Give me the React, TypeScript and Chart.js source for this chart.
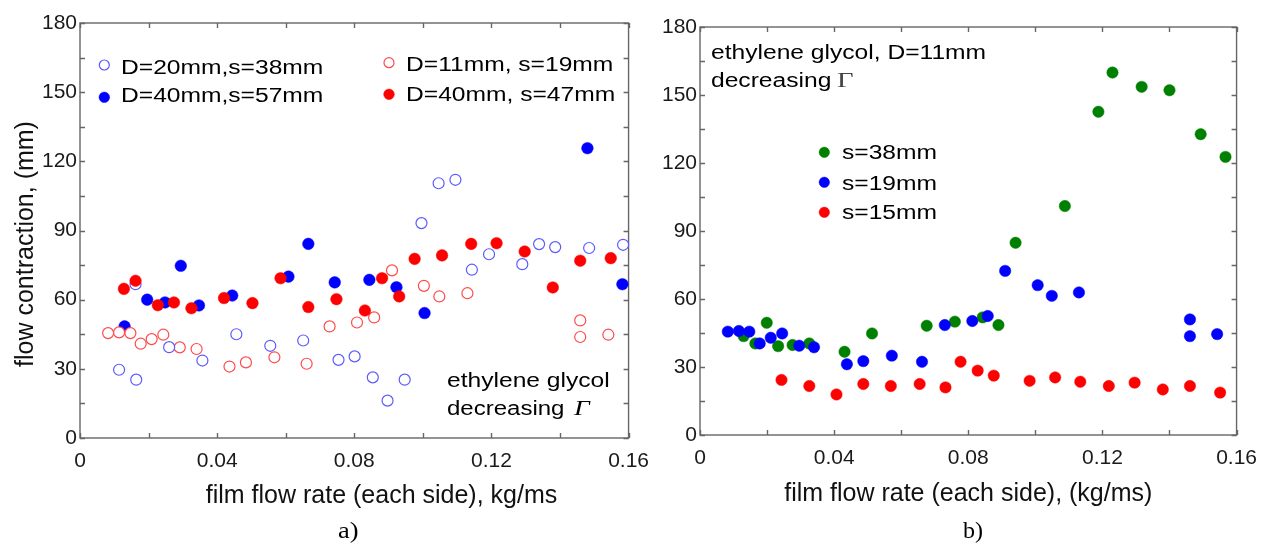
import React, { useEffect, useRef } from 'react';
import { Chart, registerables } from 'chart.js';

Chart.register(...registerables);

// ---------- Panel a) data ----------
const aBlueOpenX = [0.0114, 0.0164, 0.0162, 0.026, 0.0357, 0.0456, 0.0555, 0.0651, 0.0754, 0.0801, 0.0854, 0.0897, 0.0947, 0.0996, 0.1046, 0.1095, 0.1143, 0.1193, 0.129, 0.1339, 0.1386, 0.1485, 0.1584];
const aBlueOpenY = [29.6, 25.3, 66.7, 39.4, 33.6, 45, 40, 42.3, 33.9, 35.4, 26.3, 16.2, 25.3, 93.2, 110.5, 112, 73, 79.7, 75.4, 84.1, 82.8, 82.4, 83.8];

const aBlueFilledX = [0.013, 0.0196, 0.0248, 0.0294, 0.0347, 0.0444, 0.0608, 0.0666, 0.0743, 0.0844, 0.0923, 0.1005, 0.148, 0.1582];
const aBlueFilledY = [48.4, 60, 58.8, 74.7, 57.5, 61.8, 70, 84.2, 67.5, 68.6, 65.4, 54.2, 125.7, 66.7];

const aRedOpenX = [0.0082, 0.0114, 0.0147, 0.0177, 0.0209, 0.0243, 0.0291, 0.034, 0.0436, 0.0484, 0.0567, 0.0661, 0.0728, 0.0808, 0.0858, 0.091, 0.1003, 0.1048, 0.113, 0.1459, 0.1459, 0.1541];
const aRedOpenY = [45.5, 45.8, 45.5, 40.9, 42.9, 44.8, 39.3, 38.6, 31.0, 32.8, 35, 32.2, 48.4, 50.1, 52.3, 72.7, 66, 61.4, 62.8, 51, 43.8, 44.8];

const aRedFilledX = [0.0128, 0.0162, 0.0227, 0.0274, 0.0325, 0.042, 0.0503, 0.0585, 0.0666, 0.0748, 0.0831, 0.0881, 0.0931, 0.0976, 0.1056, 0.1141, 0.1215, 0.1297, 0.1379, 0.1459, 0.1548];
const aRedFilledY = [64.7, 68.2, 57.6, 58.8, 56.3, 60.7, 58.5, 69.3, 56.8, 60.2, 55.3, 69.3, 61.4, 77.7, 79.2, 84.2, 84.5, 80.9, 65.3, 76.9, 78];

// ---------- Panel b) data ----------
const bGreenX = [0.013, 0.0165, 0.0199, 0.0233, 0.0276, 0.0326, 0.0431, 0.0513, 0.0676, 0.076, 0.0843, 0.089, 0.0941, 0.1088, 0.1188, 0.123, 0.1317, 0.14, 0.1493, 0.1567];
const bGreenY = [43.6, 40.4, 49.5, 39.2, 39.7, 40.4, 36.7, 44.8, 48.2, 50, 51.9, 48.5, 84.8, 101, 142.6, 159.9, 153.6, 152.1, 132.7, 122.7];

const bBlueX = [0.0083, 0.0116, 0.0147, 0.0178, 0.0211, 0.0245, 0.0296, 0.034, 0.0438, 0.0487, 0.0572, 0.0662, 0.073, 0.0812, 0.0858, 0.091, 0.1007, 0.1049, 0.113, 0.1461, 0.1461, 0.1542];
const bBlueY = [45.6, 45.9, 45.6, 40.4, 42.9, 44.8, 39.4, 38.7, 31.2, 32.6, 35, 32.3, 48.5, 50.3, 52.5, 72.4, 66.1, 61.4, 62.9, 51, 43.6, 44.5];

const bRedX = [0.0243, 0.0326, 0.0407, 0.0487, 0.0569, 0.0655, 0.0732, 0.0777, 0.0828, 0.0876, 0.0983, 0.1059, 0.1134, 0.1219, 0.1296, 0.138, 0.1461, 0.1551];
const bRedY = [24.3, 21.6, 17.9, 22.5, 21.6, 22.5, 21, 32.3, 28.4, 26.2, 23.9, 25.4, 23.5, 21.6, 23.1, 20.1, 21.6, 18.7];

// ---------- Labels ----------
const aSeriesLabels = ['D=20mm,s=38mm', 'D=40mm,s=57mm', 'D=11mm, s=19mm', 'D=40mm, s=47mm'];
const bSeriesLabels = ['s=38mm', 's=19mm', 's=15mm'];
const aXTitle = 'film flow rate (each side), kg/ms';
const bXTitle = 'film flow rate (each side), (kg/ms)';
const aYTitle = 'flow contraction, (mm)';

const SANS = '"Liberation Sans", Arial, Helvetica, sans-serif';
const SERIF = '"Liberation Serif", "Times New Roman", serif';

const pts = (xs: number[], ys: number[]) => xs.map((x, i) => ({ x, y: ys[i] }));

type TextItem = {
  text: string; x: number; y: number; size: number; family?: string; style?: string;
  sx?: number; color?: string; align?: CanvasTextAlign; rotate?: number;
};
type MarkerItem = { x: number; y: number; label: string; r: number };

const framePlugin = {
  id: 'frameTicks',
  beforeDatasetsDraw(chart: any) {
    const { ctx, chartArea: a, scales } = chart;
    const xs = scales.x, ys = scales.y;
    ctx.save();
    ctx.strokeStyle = '#666666';
    ctx.lineWidth = 1.4;
    ctx.strokeRect(a.left, a.top, a.right - a.left, a.bottom - a.top);
    ctx.beginPath();
    for (const t of xs.ticks) {
      const px = Math.round(xs.getPixelForValue(t.value)) + 0.5;
      ctx.moveTo(px, a.bottom); ctx.lineTo(px, a.bottom - 5);
      ctx.moveTo(px, a.top); ctx.lineTo(px, a.top + 5);
    }
    for (const t of ys.ticks) {
      const py = Math.round(ys.getPixelForValue(t.value)) + 0.5;
      ctx.moveTo(a.left, py); ctx.lineTo(a.left + 5, py);
      ctx.moveTo(a.right, py); ctx.lineTo(a.right - 5, py);
    }
    ctx.stroke();
    ctx.restore();
  },
};

const notesPlugin = {
  id: 'notes',
  afterDraw(chart: any, _args: any, opts: any) {
    const { ctx } = chart;
    const texts: TextItem[] = opts.texts || [];
    const markers: MarkerItem[] = opts.markers || [];
    for (const m of markers) {
      const ds = chart.data.datasets.find((d: any) => d.label === m.label);
      if (!ds) continue;
      ctx.save();
      ctx.beginPath();
      ctx.arc(m.x, m.y, m.r, 0, Math.PI * 2);
      ctx.fillStyle = ds.pointBackgroundColor;
      ctx.fill();
      if (ds.pointBorderWidth) {
        ctx.lineWidth = ds.pointBorderWidth;
        ctx.strokeStyle = ds.pointBorderColor;
        ctx.stroke();
      }
      ctx.restore();
    }
    for (const t of texts) {
      ctx.save();
      ctx.translate(t.x, t.y);
      if (t.rotate) ctx.rotate(t.rotate);
      ctx.scale(t.sx ?? 1, 1);
      ctx.font = `${t.style ?? 'normal'} ${t.size}px ${t.family ?? SANS}`;
      ctx.fillStyle = t.color ?? '#000';
      ctx.textAlign = t.align ?? 'left';
      ctx.textBaseline = 'alphabetic';
      ctx.fillText(t.text, 0, 0);
      ctx.restore();
    }
  },
};

const xLabel = (v: any) => {
  const n = Math.round(Number(v) * 100);
  if (n % 4 !== 0) return '';
  return n === 0 ? '0' : (n / 100).toFixed(2);
};
const yLabel = (v: any) => (Math.round(Number(v)) % 30 === 0 ? String(Math.round(Number(v))) : '');

const tickFont = { family: SANS, size: 21 };

function scatterSet(label: string, data: any[], fill: string, border: string, bw: number, r: number) {
  return {
    label,
    data,
    pointBackgroundColor: fill,
    pointBorderColor: border,
    pointBorderWidth: bw,
    pointRadius: r,
    pointHoverRadius: r,
    backgroundColor: fill,
    borderColor: border,
    showLine: false,
    clip: false,
  };
}

function baseScales(yWidth: number, xHeight: number, xTitle?: string) {
  return {
    x: {
      type: 'linear',
      min: 0,
      max: 0.16,
      afterFit: (s: any) => { s.height = xHeight; },
      grid: { display: false, drawTicks: false },
      border: { display: false },
      ticks: { stepSize: 0.02, autoSkip: false, maxRotation: 0, padding: 11, color: '#1a1a1a', font: tickFont, callback: xLabel },
      title: xTitle
        ? { display: true, text: xTitle, color: '#111', font: { family: SANS, size: 25 }, padding: { top: 0, bottom: 0 } }
        : { display: false },
    },
    y: {
      type: 'linear',
      min: 0,
      max: 180,
      afterFit: (s: any) => { s.width = yWidth; },
      grid: { display: false, drawTicks: false },
      border: { display: false },
      ticks: { stepSize: 15, autoSkip: false, padding: 3, color: '#1a1a1a', font: tickFont, callback: yLabel },
    },
  };
}

const SX = 1.23;

function LeftPanel() {
  const ref = useRef<HTMLCanvasElement>(null);
  useEffect(() => {
    if (!ref.current) return;
    const chart = new Chart(ref.current, {
      type: 'scatter',
      data: {
        datasets: [
          scatterSet(aSeriesLabels[3], pts(aRedFilledX, aRedFilledY), '#ff0000', '#ff0000', 0.5, 5.8),
          scatterSet(aSeriesLabels[0], pts(aBlueOpenX, aBlueOpenY), '#ffffff', '#5a5aff', 1.2, 5.5),
          scatterSet(aSeriesLabels[2], pts(aRedOpenX, aRedOpenY), '#ffffff', '#ff4a4a', 1.2, 5.5),
          scatterSet(aSeriesLabels[1], pts(aBlueFilledX, aBlueFilledY), '#0000ff', '#0000ff', 0.5, 5.8),
        ],
      } as any,
      options: {
        animation: false,
        responsive: false,
        maintainAspectRatio: false,
        events: [],
        layout: { padding: { left: 0, top: 23, right: 27, bottom: 0 } },
        scales: baseScales(80, 106) as any,
        plugins: {
          legend: { display: false },
          tooltip: { enabled: false },
          notes: {
            markers: [
              { x: 104.3, y: 65, label: aSeriesLabels[0], r: 5 },
              { x: 104.3, y: 97.3, label: aSeriesLabels[1], r: 5.3 },
              { x: 389, y: 62.7, label: aSeriesLabels[2], r: 5 },
              { x: 389, y: 94.3, label: aSeriesLabels[3], r: 5.3 },
            ],
            texts: [
              { text: aSeriesLabels[0], x: 121, y: 74, size: 20, sx: SX },
              { text: aSeriesLabels[1], x: 121, y: 102, size: 20, sx: SX },
              { text: aSeriesLabels[2], x: 406, y: 71, size: 20, sx: SX },
              { text: aSeriesLabels[3], x: 406, y: 101, size: 20, sx: SX },
              { text: 'ethylene glycol', x: 447, y: 387, size: 20, sx: SX },
              { text: 'decreasing', x: 447, y: 415, size: 20, sx: 1.2 },
              { text: 'Γ', x: 574, y: 415, size: 22, sx: 1.25, family: SERIF, style: 'italic' },
              { text: aXTitle, x: 381.5, y: 503, size: 25, align: 'center', color: '#111' },
              { text: aYTitle, x: 33, y: 244, size: 25, align: 'center', rotate: -Math.PI / 2, color: '#111' },
              { text: 'a)', x: 338, y: 538, size: 24, sx: 1.1, family: SERIF },
            ],
          },
        } as any,
      },
      plugins: [framePlugin, notesPlugin],
    });
    return () => chart.destroy();
  }, []);
  return (
    <canvas ref={ref} width={660} height={544}
      style={{ position: 'absolute', left: 0, top: 0, width: 660, height: 544 }} />
  );
}

function RightPanel() {
  const ref = useRef<HTMLCanvasElement>(null);
  useEffect(() => {
    if (!ref.current) return;
    const chart = new Chart(ref.current, {
      type: 'scatter',
      data: {
        datasets: [
          scatterSet(bSeriesLabels[1], pts(bBlueX, bBlueY), '#0000ff', '#0000ff', 0.5, 5.7),
          scatterSet(bSeriesLabels[0], pts(bGreenX, bGreenY), '#008000', '#008000', 0.5, 5.7),
          scatterSet(bSeriesLabels[2], pts(bRedX, bRedY), '#ff0000', '#ff0000', 0.5, 5.7),
        ],
      } as any,
      options: {
        animation: false,
        responsive: false,
        maintainAspectRatio: false,
        events: [],
        layout: { padding: { left: 0, top: 27, right: 23, bottom: 35 } },
        scales: baseScales(60, 74, bXTitle) as any,
        plugins: {
          legend: { display: false },
          tooltip: { enabled: false },
          notes: {
            markers: [
              { x: 184.3, y: 152.3, label: bSeriesLabels[0], r: 5.2 },
              { x: 184.3, y: 182.3, label: bSeriesLabels[1], r: 5.2 },
              { x: 184.3, y: 212.3, label: bSeriesLabels[2], r: 5.2 },
            ],
            texts: [
              { text: 'ethylene glycol, D=11mm', x: 71, y: 58.5, size: 20, sx: SX },
              { text: 'decreasing', x: 71, y: 86.7, size: 20, sx: SX },
              { text: 'Γ', x: 197, y: 86.7, size: 22, sx: 1.3, family: SERIF, color: '#444' },
              { text: bSeriesLabels[0], x: 202, y: 159.3, size: 20, sx: SX },
              { text: bSeriesLabels[1], x: 202, y: 190, size: 20, sx: SX },
              { text: bSeriesLabels[2], x: 202, y: 219.3, size: 20, sx: SX },
              { text: 'b)', x: 323, y: 538, size: 24, sx: 1.0, family: SERIF },
            ],
          },
        } as any,
      },
      plugins: [framePlugin, notesPlugin],
    });
    return () => chart.destroy();
  }, []);
  return (
    <canvas ref={ref} width={628} height={544}
      style={{ position: 'absolute', left: 640, top: 0, width: 628, height: 544 }} />
  );
}

export default function App() {
  return (
    <div style={{ position: 'fixed', left: 0, top: 0, width: 1268, height: 544, background: '#ffffff', overflow: 'hidden' }}>
      <LeftPanel />
      <RightPanel />
    </div>
  );
}
